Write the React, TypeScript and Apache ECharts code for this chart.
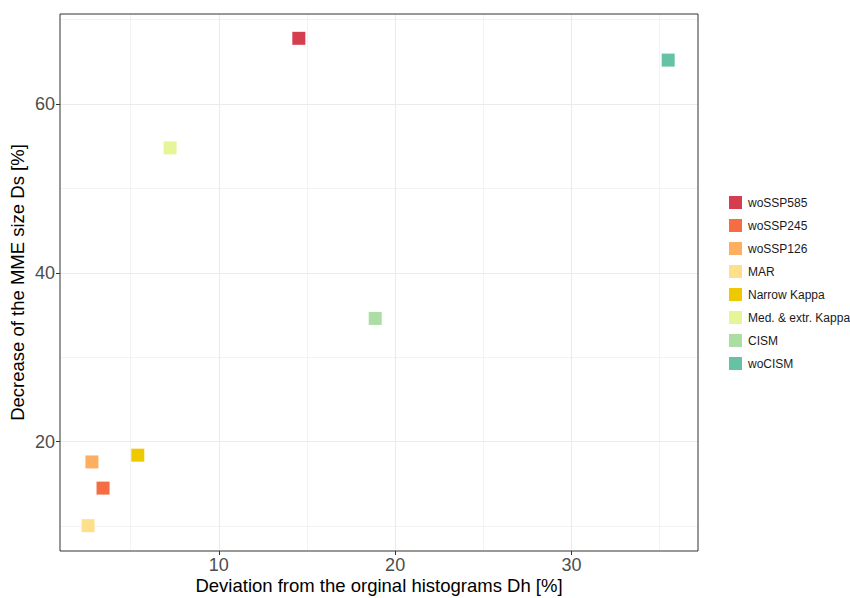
import React, { useEffect, useRef } from "react";
import * as echarts from "echarts";

const categories = ["woSSP585", "woSSP245", "woSSP126", "MAR", "Narrow Kappa", "Med. & extr. Kappa", "CISM", "woCISM"];
const xValues = [14.54, 3.44, 2.81, 2.59, 5.41, 7.24, 18.87, 35.48];
const yValues = [67.78, 14.5, 17.6, 10.05, 18.4, 54.8, 34.6, 65.2];
const colors = ["#D53E4F", "#F46D43", "#FDAE61", "#FEE08B", "#EEC900", "#E6F598", "#ABDDA4", "#66C2A5"];
const xMajor = [10, 20, 30];
const xMinor = [5, 15, 25, 35];
const yMajor = [20, 40, 60];
const yMinor = [10, 30, 50, 70];

export default function App() {
  const ref = useRef<HTMLDivElement>(null);
  useEffect(() => {
    if (!ref.current) return;
    const chart = echarts.init(ref.current, null, { renderer: "svg" });
    const font = "Liberation Sans, Arial, sans-serif";
    const series: any[] = [
      {
        type: "scatter",
        name: "__grid",
        data: [],
        silent: true,
        markLine: {
          silent: true,
          symbol: "none",
          label: { show: false },
          animation: false,
          data: [
            ...xMinor.map((v) => ({ xAxis: v, lineStyle: { color: "#EBEBEB", width: 0.6, type: "solid" } })),
            ...yMinor.map((v) => ({ yAxis: v, lineStyle: { color: "#EBEBEB", width: 0.6, type: "solid" } })),
            ...xMajor.map((v) => ({ xAxis: v, lineStyle: { color: "#EBEBEB", width: 1.1, type: "solid" } })),
            ...yMajor.map((v) => ({ yAxis: v, lineStyle: { color: "#EBEBEB", width: 1.1, type: "solid" } })),
          ],
        },
      },
      ...categories.map((c, i) => ({
        type: "scatter",
        name: c,
        symbol: "rect",
        symbolSize: 13,
        itemStyle: { color: colors[i], opacity: 1 },
        data: [[xValues[i], yValues[i]]],
        z: 5,
      })),
    ];
    chart.setOption({
      animation: false,
      grid: {
        left: 60,
        right: 152,
        top: 14,
        bottom: 47,
        show: true,
        borderColor: "#333333",
        borderWidth: 1,
        z: 10,
        containLabel: false,
        outerBoundsMode: "none",
      },
      legend: {
        orient: "vertical",
        left: 724,
        top: 191,
        icon: "rect",
        itemWidth: 13,
        itemHeight: 13,
        itemGap: 10,
        data: categories,
        itemStyle: { opacity: 1 },
        textStyle: { fontSize: 12, color: "#1A1A1A", fontFamily: font, padding: [0, 0, 0, 1] },
      },
      xAxis: {
        type: "value",
        min: 1.0,
        max: 37.17,
        name: "Deviation from the orginal histograms Dh [%]",
        nameLocation: "middle",
        nameGap: 25,
        nameMoveOverlap: false,
        nameTextStyle: { fontSize: 18.5, color: "#000", fontFamily: font },
        axisLine: { show: false },
        splitLine: { show: false },
        axisTick: { show: true, length: 4, lineStyle: { color: "#333333", width: 1 }, customValues: xMajor },
        axisLabel: { fontSize: 18, color: "#4D4D4D", fontFamily: font, margin: 5, customValues: xMajor },
      },
      yAxis: {
        type: "value",
        min: 7.05,
        max: 70.66,
        name: "Decrease of the MME size Ds [%]",
        nameLocation: "middle",
        nameGap: 33,
        nameMoveOverlap: false,
        nameRotate: 90,
        nameTextStyle: { fontSize: 18.5, color: "#000", fontFamily: font },
        axisLine: { show: false },
        splitLine: { show: false },
        axisTick: { show: true, length: 4, lineStyle: { color: "#333333", width: 1 }, customValues: yMajor },
        axisLabel: { fontSize: 18, color: "#4D4D4D", fontFamily: font, margin: 5, customValues: yMajor },
      },
      series,
    });
    return () => chart.dispose();
  }, []);
  return <div ref={ref} style={{ width: 850, height: 598, position: "absolute", left: 0, top: 0 }} />;
}
